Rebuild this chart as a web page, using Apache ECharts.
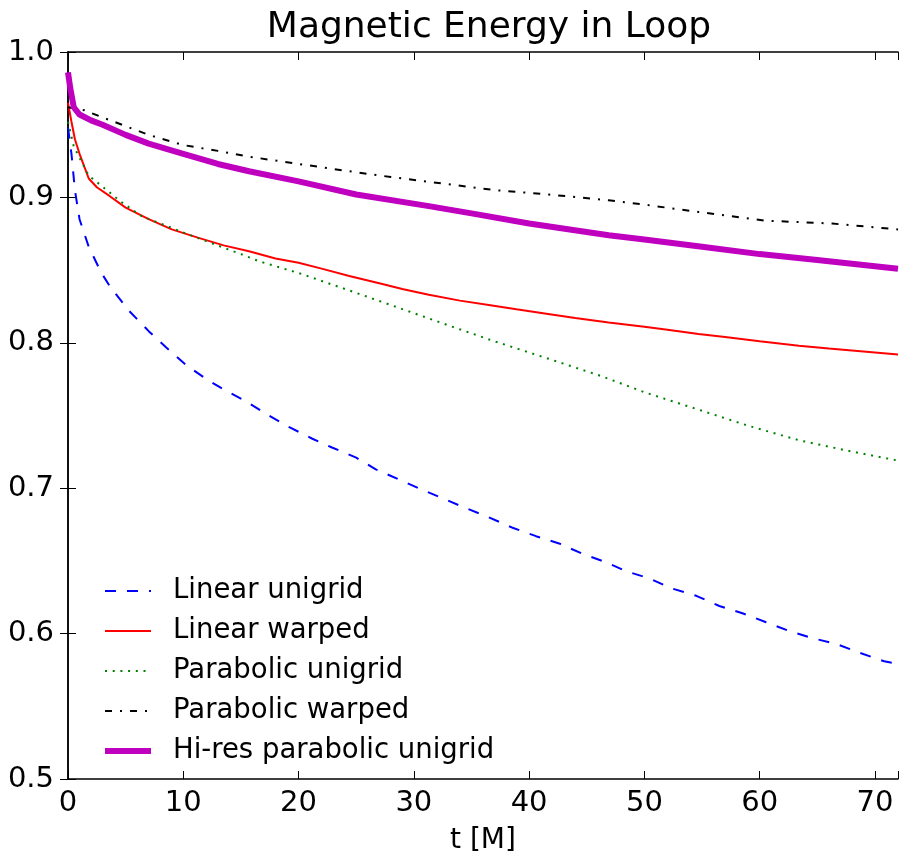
<!DOCTYPE html>
<html>
<head>
<meta charset="utf-8">
<script src="https://cdn.jsdelivr.net/npm/echarts@6/dist/echarts.min.js"></script>
<style>
  html, body { margin: 0; padding: 0; background: #fff; }
  #chart { width: 902px; height: 860px; }
</style>
</head>
<body>
<div id="chart"></div>
<script>
// t [M] and energy for each run
var linUniT = [0, 0.3, 0.6, 1.0, 1.8, 2.9, 3.7, 5.3, 7.0, 8.5, 10.2, 12.0, 13.7, 15.4, 17.2, 19.2, 21.2, 22.9, 25.0, 26.7, 28.7, 30.7, 32.8, 34.6, 36.5, 38.5, 40.6, 42.6, 44.6, 46.7, 48.4, 50.4, 52.4, 54.5, 56.5, 58.5, 60.5, 62.5, 64.5, 66.6, 68.6, 70.8, 72]
var linUniE = [0.948, 0.93, 0.905, 0.885, 0.866, 0.848, 0.838, 0.822, 0.808, 0.797, 0.785, 0.775, 0.767, 0.760, 0.751, 0.742, 0.734, 0.728, 0.721, 0.713, 0.706, 0.699, 0.692, 0.686, 0.680, 0.673, 0.667, 0.662, 0.655, 0.649, 0.643, 0.638, 0.631, 0.626, 0.619, 0.614, 0.608, 0.602, 0.597, 0.593, 0.587, 0.581, 0.579]

var linWarpT = [0, 0.3, 0.6, 1.0, 1.8, 2.5, 3.6, 5, 7, 9, 11.4, 13.5, 15.7, 18, 20, 22, 24.4, 27, 29, 31.3, 34, 36.5, 38.9, 41.5, 44, 46.9, 50, 52, 54.7, 57, 60, 63.4, 66, 69, 72]
var linWarpE = [0.965, 0.952, 0.94, 0.93, 0.913, 0.907, 0.901, 0.893, 0.885, 0.878, 0.872, 0.867, 0.863, 0.858, 0.855, 0.851, 0.846, 0.841, 0.837, 0.833, 0.829, 0.826, 0.823, 0.820, 0.817, 0.814, 0.811, 0.809, 0.806, 0.804, 0.801, 0.798, 0.796, 0.794, 0.792]

var parUniT = [0, 0.5, 1.8, 2.9, 4.6, 6.4, 9, 11.6, 15, 16.6, 20, 24.4, 28, 33, 37, 41.7, 46.3, 50, 54.7, 59, 63.4, 67.5, 72]
var parUniE = [0.952, 0.935, 0.915, 0.908, 0.897, 0.887, 0.879, 0.871, 0.861, 0.856, 0.848, 0.836, 0.826, 0.812, 0.801, 0.789, 0.777, 0.766, 0.754, 0.743, 0.733, 0.726, 0.719]

var parWarpT = [0, 1.4, 3, 5, 7, 10, 13, 15.7, 20, 24.4, 28, 33, 37, 41.7, 46.9, 50, 54.7, 60.5, 66.3, 70.6, 72]
var parWarpE = [0.962, 0.960, 0.955, 0.949, 0.943, 0.936, 0.932, 0.928, 0.923, 0.918, 0.914, 0.909, 0.905, 0.902, 0.898, 0.895, 0.890, 0.884, 0.882, 0.879, 0.878]

var hiResT = [0, 0.2, 0.5, 1, 2, 3, 5, 7, 10, 13, 15.7, 20, 25, 31.3, 35, 40, 46.9, 50, 55, 60, 65, 72]
var hiResE = [0.986, 0.975, 0.962, 0.957, 0.953, 0.950, 0.943, 0.937, 0.930, 0.923, 0.918, 0.911, 0.902, 0.894, 0.889, 0.882, 0.874, 0.871, 0.866, 0.861, 0.857, 0.851]

var names = ['Linear unigrid', 'Linear warped', 'Parabolic unigrid', 'Parabolic warped', 'Hi-res parabolic unigrid']
var xTicks = [0, 10, 20, 30, 40, 50, 60, 70]

function pairs (t, e) {
  return t.map(function (v, i) { return [v, e[i]] })
}

var font = 'DejaVu Sans'
var frame = { show: true, lineStyle: { color: '#000', width: 1.5 } }
var tick = { show: true, inside: true, length: 8, lineStyle: { color: '#000', width: 1 } }

var chart = echarts.init(document.getElementById('chart'))
chart.setOption({
  animation: false,
  backgroundColor: '#fff',
  title: {
    text: 'Magnetic Energy in Loop',
    left: 484,
    textAlign: 'center',
    top: 5,
    textStyle: { fontFamily: font, fontSize: 36, fontWeight: 'normal', color: '#000' }
  },
  grid: { left: 68, right: 4, top: 52, bottom: 75 },
  legend: {
    orient: 'vertical',
    left: 97,
    top: 571,
    itemWidth: 46,
    itemHeight: 14,
    itemGap: 10,
    itemStyle: { opacity: 0 },
    textStyle: { fontFamily: font, fontSize: 27.5, color: '#000', lineHeight: 30, padding: [0, 0, 0, 17] },
    data: [
      { name: names[0] },
      { name: names[1] },
      { name: names[2] },
      { name: names[3] },
      { name: names[4], lineStyle: { width: 6 } }
    ]
  },
  xAxis: [{
    type: 'value',
    min: 0,
    max: 72,
    interval: 10,
    name: 't [M]',
    nameLocation: 'middle',
    nameGap: 48,
    nameTextStyle: { fontFamily: font, fontSize: 28, color: '#000' },
    axisLine: frame,
    axisTick: tick,
    splitLine: { show: false },
    axisLabel: {
      margin: 10,
      fontFamily: font,
      fontSize: 29,
      color: '#000',
      formatter: function (v) { return xTicks.indexOf(v) >= 0 ? String(v) : '' }
    }
  }, {
    type: 'value',
    position: 'top',
    min: 0,
    max: 72,
    interval: 10,
    axisLine: frame,
    axisTick: tick,
    splitLine: { show: false },
    axisLabel: { show: false }
  }],
  yAxis: [{
    type: 'value',
    min: 0.5,
    max: 1.0,
    interval: 0.1,
    axisLine: frame,
    axisTick: tick,
    splitLine: { show: false },
    axisLabel: {
      margin: 14,
      fontFamily: font,
      fontSize: 29,
      color: '#000',
      formatter: function (v) { return v.toFixed(1) }
    }
  }, {
    type: 'value',
    position: 'right',
    min: 0.5,
    max: 1.0,
    interval: 0.1,
    axisLine: frame,
    axisTick: tick,
    splitLine: { show: false },
    axisLabel: { show: false }
  }],
  series: [
    {
      name: names[0],
      type: 'line',
      symbol: 'none',
      data: pairs(linUniT, linUniE),
      lineStyle: { color: '#0000ff', width: 2, type: [11, 11] },
      itemStyle: { color: '#0000ff' }
    },
    {
      name: names[1],
      type: 'line',
      symbol: 'none',
      data: pairs(linWarpT, linWarpE),
      lineStyle: { color: '#ff0000', width: 2 },
      itemStyle: { color: '#ff0000' }
    },
    {
      name: names[2],
      type: 'line',
      symbol: 'none',
      data: pairs(parUniT, parUniE),
      lineStyle: { color: '#008000', width: 2, type: [2, 5.7] },
      itemStyle: { color: '#008000' }
    },
    {
      name: names[3],
      type: 'line',
      symbol: 'none',
      data: pairs(parWarpT, parWarpE),
      lineStyle: { color: '#000000', width: 2, type: [7, 8, 2, 8] },
      itemStyle: { color: '#000000' }
    },
    {
      name: names[4],
      type: 'line',
      symbol: 'none',
      data: pairs(hiResT, hiResE),
      lineStyle: { color: '#bf00bf', width: 6 },
      itemStyle: { color: '#bf00bf' }
    }
  ]
})
</script>
</body>
</html>
